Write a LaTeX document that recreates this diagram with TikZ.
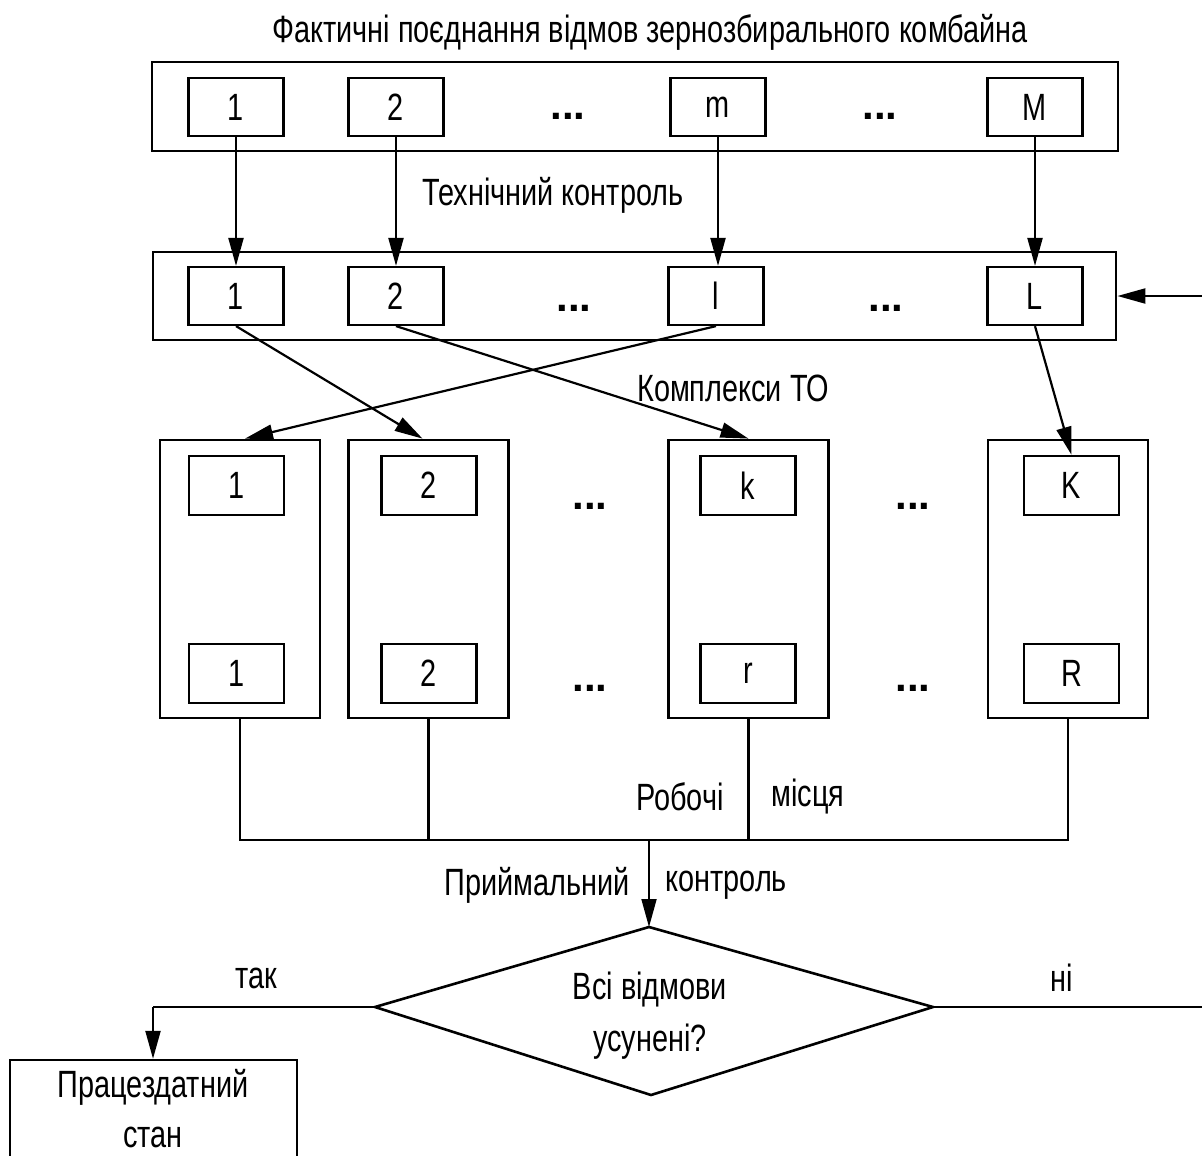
\documentclass[tikz,border=0pt]{standalone}
\usepackage{fontspec}
\setmainfont{Liberation Sans}[FakeStretch=0.76]
\newfontfamily\dotfont{Liberation Sans}
\usetikzlibrary{arrows.meta}
\begin{document}
\begin{tikzpicture}[x=0.5pt,y=-0.5pt,
  every node/.style={font=\fontsize{19pt}{23pt}\selectfont},
  inbox/.style={draw,line width=1.1pt,minimum width=47.5pt,minimum height=29pt,inner sep=0pt},
  outbox/.style={draw,line width=1.4pt,inner sep=0pt},
  tallbox/.style={draw,line width=1.4pt,minimum width=80pt,minimum height=139pt,inner sep=0pt},
  arr/.style={line width=1.1pt,-{Triangle[length=14pt,width=7.5pt]}},
  ln/.style={line width=1.1pt},
  dots/.style={font=\dotfont\fontsize{21pt}{23pt}\selectfont\bfseries},
  lbl/.style={inner sep=0pt}]
\useasboundingbox (0,0) rectangle (1202,1155);

% title
\node[lbl] (title) at (650,32) {Фактичні поєднання відмов зернозбирального комбайна};

% top row
\node[outbox,minimum width=483pt,minimum height=44.5pt] (top) at (635,106.5) {};
\node[inbox] (a1) at (236,107) {1};
\node[inbox] (a2) at (396,107) {2};
\node[inbox] (am) at (718,107) {m};
\node[inbox] (aM) at (1035,107) {M};
\node[dots] (ad1) at (568,116) {...};
\node[dots] (ad2) at (880,116) {...};

% second row
\node[outbox,minimum width=481.5pt,minimum height=44pt] (mid) at (634.5,296) {};
\node[inbox] (b1) at (236,296) {1};
\node[inbox] (b2) at (396,296) {2};
\node[inbox] (bl) at (716,296) {l};
\node[inbox] (bL) at (1035,296) {L};
\node[dots] (bd1) at (574,308) {...};
\node[dots] (bd2) at (886,308) {...};

\node[lbl] (tk) at (553,195) {Технічний контроль};

% arrows top -> second
\draw[arr] (a1.south) -- (a1.south |- b1.north);
\draw[arr] (a2.south) -- (a2.south |- b2.north);
\draw[arr] (am.south) -- (am.south |- bl.north);
\draw[arr] (aM.south) -- (aM.south |- bL.north);

% incoming arrow from the right
\coordinate (rin) at (1202,296);
\draw[arr] (rin) -- (mid.east);

% tall boxes
\node[tallbox] (T1) at (240,579) {};
\node[tallbox] (T2) at (428.5,579) {};
\node[tallbox] (T3) at (748.5,579) {};
\node[tallbox] (T4) at (1068,579) {};
\node[inbox,minimum height=29.5pt] (k1) at (236.5,485.5) {1};
\node[inbox,minimum height=29.5pt] (k2) at (429,485.5) {2};
\node[inbox,minimum height=29.5pt] (kk) at (748,485.5) {k};
\node[inbox,minimum height=29.5pt] (kK) at (1071.5,485.5) {K};
\node[inbox,minimum height=29.5pt] (r1) at (236.5,673.5) {1};
\node[inbox,minimum height=29.5pt] (r2) at (429,673.5) {2};
\node[inbox,minimum height=29.5pt] (rr) at (748,673.5) {r};
\node[inbox,minimum height=29.5pt] (rR) at (1071.5,673.5) {R};
\node[dots] (kd1) at (590,506) {...};
\node[dots] (kd2) at (913,506) {...};
\node[dots] (rd1) at (590,688) {...};
\node[dots] (rd2) at (913,688) {...};

\node[lbl] (kto) at (733,388) {Комплекси ТО};

% crossing arrows
\draw[arr] (b1.south) -- ([xshift=-3pt]T2.north);
\draw[arr] (b2.south) -- (T3.north);
\draw[arr] (bl.south) -- ([xshift=2.5pt]T1.north);
\draw[arr] (bL.south) -- (kK.north);

% bus
\coordinate (bus) at (649,840);
\draw[ln] (T1.south) -- (T1.south |- bus) -- (T4.south |- bus) -- (T4.south);
\draw[ln] (T2.south) -- (T2.south |- bus);
\draw[ln] (T3.south) -- (T3.south |- bus);
\node[lbl,anchor=east] (rob) at (724,797) {Робочі};
\node[lbl,anchor=west] (mis) at (771,797) {місця};

% diamond
\coordinate (dtop) at (649,927);
\coordinate (dleft) at (375,1007);
\coordinate (dright) at (933,1007);
\coordinate (dbot) at (651,1095);
\draw[line width=1.3pt,line join=miter] (dtop) -- (dright) -- (dbot) -- (dleft) -- cycle;
\node[lbl,align=center] (q) at (650,1016) {Всі відмови\\[3pt]усунені?};

\draw[line width=0.9pt,-{Triangle[length=14pt,width=7.5pt]}] (bus) -- (dtop);
\node[lbl,anchor=east] (pk1) at (630,885) {Приймальний};
\node[lbl,anchor=west] (pk2) at (665,885) {контроль};

% outputs
\node[lbl] (tak) at (256,978) {так};
\node[lbl] (ni) at (1062,978) {ні};
\node[outbox,line width=1.2pt,minimum width=143.5pt,minimum height=60pt] (ok) at (153.5,1120) {};
\node[lbl] (ok1) at (153,1087) {Працездатний};
\node[lbl] (ok2) at (153,1137) {стан};
\coordinate (lcorner) at (153,1007);
\draw[line width=1.3pt] (dleft) -- (lcorner);
\draw[arr] (lcorner) -- (lcorner |- ok.north);
\coordinate (rout) at (1202,1007);
\draw[line width=1.3pt] (dright) -- (rout);
\end{tikzpicture}
\end{document}
